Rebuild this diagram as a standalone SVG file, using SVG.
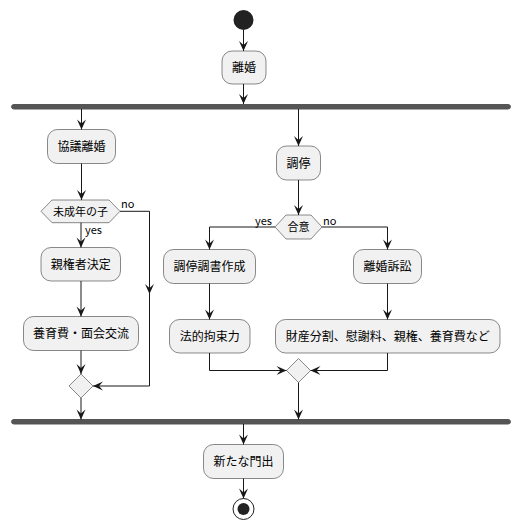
<svg xmlns="http://www.w3.org/2000/svg" width="521" height="530" viewBox="0 0 521 530">
<style>
.act rect{fill:#F1F1F1;stroke:#181818;stroke-width:0.5}
.dec polygon{fill:#F1F1F1;stroke:#181818;stroke-width:0.5}
text{font-family:"Noto Sans CJK JP","Noto Sans",sans-serif;fill:#000}
.t{font-size:12px;text-anchor:middle}
.d{font-size:11px;text-anchor:middle}
.l{font-size:11px}
.c path{fill:none;stroke:#181818;stroke-width:1}
.bar{fill:#555555;stroke:#555555;stroke-width:1}
</style>
<defs>
<marker id="ah" markerUnits="userSpaceOnUse" markerWidth="10" markerHeight="10" refX="10" refY="5" orient="auto" overflow="visible">
<path d="M0,0.5 L10,5 L0,9.5 L4,5 Z" fill="#181818"/>
</marker>
</defs>
<g id="start"><circle cx="243.5" cy="20" r="10" fill="#222222"/></g>
<g id="rikon" class="act"><rect x="222" y="51" width="44" height="33" rx="10"/><text class="t" x="244" y="72">離婚</text></g>
<g id="fork"><rect class="bar" x="11.5" y="104.5" width="499" height="4.5" rx="2.5"/></g>
<g id="kyogi" class="act"><rect x="47.5" y="129.5" width="68" height="34" rx="10"/><text class="t" x="81.5" y="151">協議離婚</text></g>
<g id="chotei" class="act"><rect x="276.5" y="146" width="44" height="34" rx="10"/><text class="t" x="298.5" y="167.5">調停</text></g>
<g id="miseinen" class="dec"><polygon points="41,211.3 52,200 109,200 120,211.3 109,222.7 52,222.7"/><text class="d" x="80.5" y="215.5">未成年の子</text></g>
<g id="goi" class="dec"><polygon points="275,227 286,215 311,215 322,227 311,239 286,239"/><text class="d" x="298.5" y="231">合意</text></g>
<g id="shinken" class="act"><rect x="41" y="247.5" width="79.5" height="33.5" rx="10"/><text class="t" x="80.8" y="268.5">親権者決定</text></g>
<g id="yoiku" class="act"><rect x="23.5" y="316.5" width="115" height="34" rx="10"/><text class="t" x="81" y="338">養育費・面会交流</text></g>
<g id="choteichosho" class="act"><rect x="163.5" y="249.5" width="92" height="34" rx="10"/><text class="t" x="209.5" y="271">調停調書作成</text></g>
<g id="sosho" class="act"><rect x="353.5" y="249.5" width="68" height="34" rx="10"/><text class="t" x="387.5" y="271">離婚訴訟</text></g>
<g id="hoteki" class="act"><rect x="169.5" y="319.5" width="80.5" height="33.5" rx="10"/><text class="t" x="209.8" y="340.5">法的拘束力</text></g>
<g id="zaisan" class="act"><rect x="275.5" y="319.5" width="224.5" height="33.5" rx="10"/><text class="t" x="387.8" y="340.5">財産分割、慰謝料、親権、養育費など</text></g>
<g id="merge1" class="dec"><polygon points="81,374 93,386 81,398 69,386"/></g>
<g id="merge2" class="dec"><polygon points="298.5,358.5 310.5,370.5 298.5,382.5 286.5,370.5"/></g>
<g id="join"><rect class="bar" x="11.5" y="419.5" width="499" height="4.5" rx="2.5"/></g>
<g id="arata" class="act"><rect x="203.5" y="444.5" width="80" height="34" rx="10"/><text class="t" x="243.5" y="466">新たな門出</text></g>
<g id="end"><circle cx="243.5" cy="509" r="10.5" fill="none" stroke="#222222" stroke-width="1"/><circle cx="243.5" cy="509" r="6" fill="#222222"/></g>
<g id="connectors" class="c">
<path d="M243.5,30 V51" marker-end="url(#ah)"/>
<path d="M243.5,84 V104" marker-end="url(#ah)"/>
<path d="M81.5,109 V129.5" marker-end="url(#ah)"/>
<path d="M298.5,109 V146" marker-end="url(#ah)"/>
<path d="M81.5,163.5 V200" marker-end="url(#ah)"/>
<path d="M81,222.7 V247.5" marker-end="url(#ah)"/>
<path d="M120,211.3 H149.5 V294" marker-end="url(#ah)"/>
<path d="M149.5,294 V386 H93" marker-end="url(#ah)"/>
<path d="M81,281 V316.5" marker-end="url(#ah)"/>
<path d="M81,350.5 V374" marker-end="url(#ah)"/>
<path d="M81,398 V419.5" marker-end="url(#ah)"/>
<path d="M298.5,180 V215" marker-end="url(#ah)"/>
<path d="M275,227 H209.5 V249.5" marker-end="url(#ah)"/>
<path d="M322,227 H387.5 V249.5" marker-end="url(#ah)"/>
<path d="M209.5,283.5 V319.5" marker-end="url(#ah)"/>
<path d="M387.5,283.5 V319.5" marker-end="url(#ah)"/>
<path d="M209.5,353 V370.5 H286.5" marker-end="url(#ah)"/>
<path d="M387.5,353 V370.5 H310.5" marker-end="url(#ah)"/>
<path d="M298.5,382.5 V419.5" marker-end="url(#ah)"/>
<path d="M243.5,424 V444.5" marker-end="url(#ah)"/>
<path d="M243.5,478.5 V498.5" marker-end="url(#ah)"/>
</g>
<text class="l" x="121" y="208">no</text>
<text class="l" x="85" y="233.5">yes</text>
<text class="l" x="255" y="225">yes</text>
<text class="l" x="323" y="225">no</text>
</svg>
